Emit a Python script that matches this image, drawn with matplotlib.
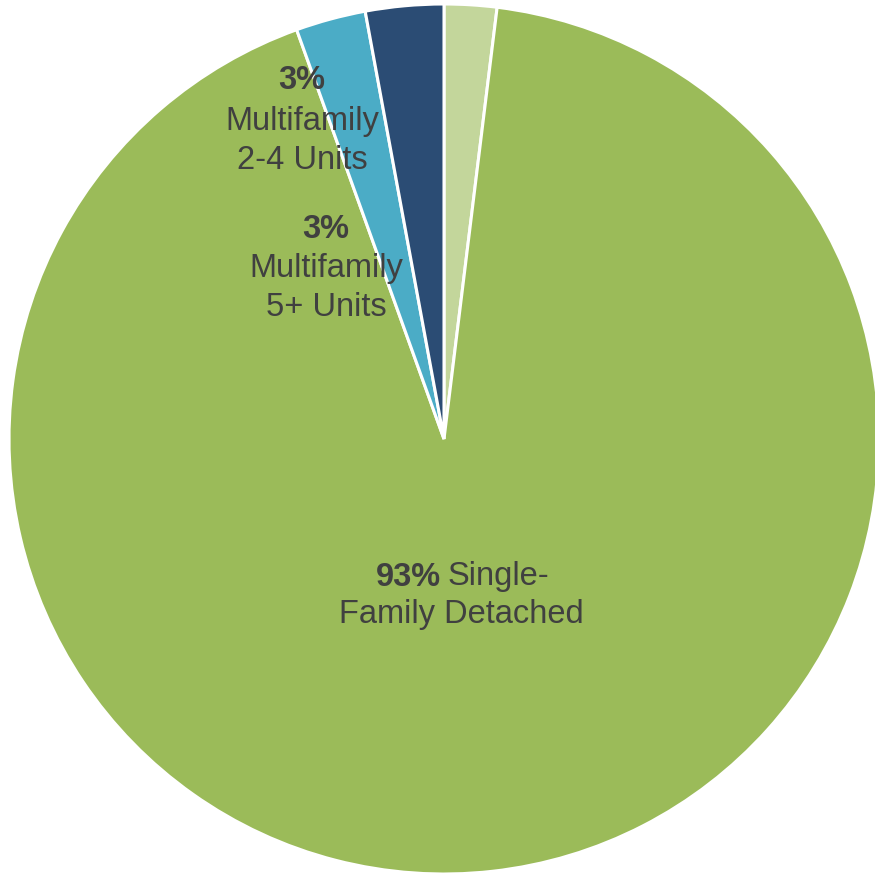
import matplotlib
matplotlib.use("Agg")
import matplotlib.pyplot as plt

plt.rcParams['font.family'] = ['Liberation Sans', 'DejaVu Sans']

categories = ["Other", "Single-Family Detached", "Multifamily 2-4 Units", "Multifamily 5+ Units"]
values = [1.95, 92.55, 2.6, 2.9]
colors = ["#C3D69B", "#9BBB59", "#4BACC6", "#2B4C74"]

W, H = 875, 879
cx, cy, R = 444, 440, 435

fig = plt.figure(figsize=(W / 100, H / 100), dpi=100)
ax = fig.add_axes([0, 0, 1, 1])
ax.pie(values, colors=colors, startangle=90, counterclock=False,
       wedgeprops=dict(edgecolor="white", linewidth=2.2), radius=1.0)
ax.set_xlim(-cx / R, (W - cx) / R)
ax.set_ylim(-(H - cy) / R, cy / R)
ax.set_aspect('auto')
ax.axis('off')

def px(x, y):
    return ((x - cx) / R, (cy - y) / R)

tc = "#404040"
fs = 23.5

# Multifamily 2-4
ax.text(*px(302, 80), "3%", ha='center', va='center', fontsize=fs, fontweight='bold', color=tc)
ax.text(*px(302, 121), "Multifamily", ha='center', va='center', fontsize=fs, color=tc)
ax.text(*px(302, 160), "2-4 Units", ha='center', va='center', fontsize=fs, color=tc)

# Multifamily 5+
ax.text(*px(326, 229), "3%", ha='center', va='center', fontsize=fs, fontweight='bold', color=tc)
ax.text(*px(326, 268), "Multifamily", ha='center', va='center', fontsize=fs, color=tc)
ax.text(*px(326, 307), "5+ Units", ha='center', va='center', fontsize=fs, color=tc)

# Single-family
ax.text(*px(441, 577), "93%", ha='right', va='center', fontsize=fs, fontweight='bold', color=tc)
ax.text(*px(448, 577), "Single-", ha='left', va='center', fontsize=fs, color=tc)
ax.text(*px(461, 615), "Family Detached", ha='center', va='center', fontsize=fs, color=tc)

fig.savefig("out.png", dpi=100, facecolor="white")
